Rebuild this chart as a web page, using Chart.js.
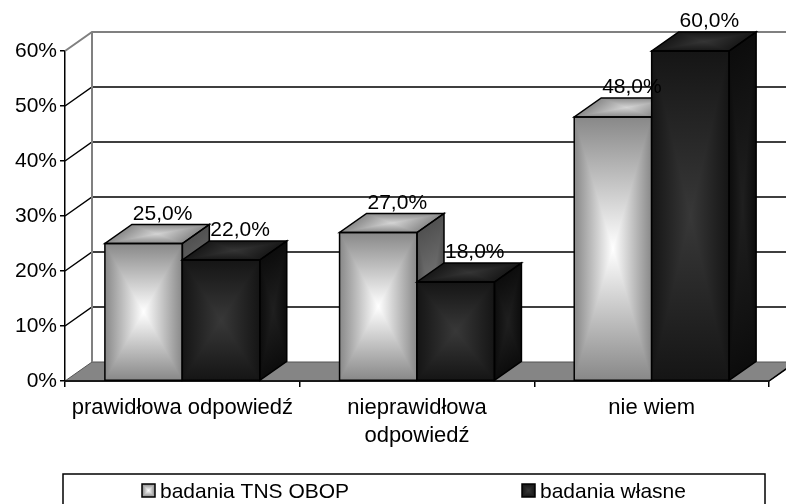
<!DOCTYPE html>
<html>
<head>
<meta charset="utf-8">
<script src="https://cdn.jsdelivr.net/npm/chart.js@4.4.1/dist/chart.umd.min.js"></script>
<style>
body { margin: 0; background: #fff; }
#wrap { width: 786px; height: 504px; }
</style>
</head>
<body>
<div id="wrap"><canvas id="chart" width="786" height="504"></canvas></div>
<script>
const categories = ['prawidłowa odpowiedź', ['nieprawidłowa', 'odpowiedź'], 'nie wiem'];
const seriesNames = ['badania TNS OBOP', 'badania własne'];
const tnsObop = [25, 27, 48];
const wlasne = [22, 18, 60];
const yMax = 60;
const yStep = 10;

// depth of the fake 3d box
const DX = 27, DY = -19;
const FONT = '"Liberation Sans", Arial, sans-serif';

const palette = [
    { front: ['#888888', '#ffffff'], top: ['#8a8a8a', '#d4d4d4'], side: ['#505050', '#7a7a7a'] },
    { front: ['#151515', '#383838'], top: ['#181818', '#353535'], side: ['#0c0c0c', '#1f1f1f'] }
];

// gradient across a parallelogram between edge (a,b) and its opposite edge
function acrossGrad(ctx, a, b, c, edgeCol, midCol) {
    const ex = b[0] - a[0], ey = b[1] - a[1];
    const t = ((c[0] - a[0]) * ex + (c[1] - a[1]) * ey) / (ex * ex + ey * ey);
    const fx = a[0] + ex * t, fy = a[1] + ey * t;
    const g = ctx.createLinearGradient(fx, fy, 2 * c[0] - fx, 2 * c[1] - fy);
    g.addColorStop(0, edgeCol);
    g.addColorStop(0.5, midCol);
    g.addColorStop(1, edgeCol);
    return g;
}

// "from centre" fill: min of two cross gradients (edges darker than centre)
function centreFill(ctx, pts, edgeCol, midCol) {
    const c = [(pts[0][0] + pts[2][0]) / 2, (pts[0][1] + pts[2][1]) / 2];
    const path = () => {
        ctx.beginPath();
        pts.forEach((p, i) => i ? ctx.lineTo(p[0], p[1]) : ctx.moveTo(p[0], p[1]));
        ctx.closePath();
    };
    ctx.save();
    path();
    ctx.fillStyle = acrossGrad(ctx, pts[0], pts[1], c, edgeCol, midCol);
    ctx.fill();
    ctx.globalCompositeOperation = 'darken';
    path();
    ctx.fillStyle = acrossGrad(ctx, pts[1], pts[2], c, edgeCol, midCol);
    ctx.fill();
    ctx.restore();
}

function outline(ctx, pts) {
    ctx.beginPath();
    pts.forEach((p, i) => i ? ctx.lineTo(p[0], p[1]) : ctx.moveTo(p[0], p[1]));
    ctx.closePath();
    ctx.strokeStyle = '#000';
    ctx.lineWidth = 1.5;
    ctx.stroke();
}

const wallsPlugin = {
    id: 'walls',
    beforeDatasetsDraw(chart) {
        const ctx = chart.ctx;
        const a = chart.chartArea;
        const y = chart.scales.y;
        ctx.save();

        // floor
        ctx.beginPath();
        ctx.moveTo(a.left, a.bottom);
        ctx.lineTo(a.right, a.bottom);
        ctx.lineTo(a.right + DX, a.bottom + DY);
        ctx.lineTo(a.left + DX, a.bottom + DY);
        ctx.closePath();
        ctx.fillStyle = '#858585';
        ctx.fill();
        ctx.strokeStyle = '#555';
        ctx.lineWidth = 1;
        ctx.stroke();

        // grid lines on side and back wall
        ctx.strokeStyle = '#000';
        ctx.lineWidth = 1.5;
        for (let v = yStep; v < yMax; v += yStep) {
            const yy = y.getPixelForValue(v);
            ctx.beginPath();
            ctx.moveTo(a.left, yy);
            ctx.lineTo(a.left + DX, yy + DY);
            ctx.lineTo(a.right + DX, yy + DY);
            ctx.stroke();
        }

        // wall borders
        ctx.strokeStyle = '#808080';
        ctx.lineWidth = 2;
        ctx.beginPath();
        ctx.moveTo(a.left, a.top);
        ctx.lineTo(a.left + DX, a.top + DY);
        ctx.lineTo(a.right + DX, a.top + DY);
        ctx.moveTo(a.left + DX, a.top + DY);
        ctx.lineTo(a.left + DX, a.bottom + DY);
        ctx.stroke();

        // front edge of floor
        ctx.strokeStyle = '#000';
        ctx.lineWidth = 1.5;
        ctx.beginPath();
        ctx.moveTo(a.left, a.bottom);
        ctx.lineTo(a.right, a.bottom);
        ctx.lineTo(a.right + DX, a.bottom + DY);
        ctx.stroke();
        ctx.restore();
    },
    afterDatasetsDraw(chart) {
        const ctx = chart.ctx;
        ctx.save();
        const n = chart.data.labels.length;
        for (let i = 0; i < n; i++) {
            chart.data.datasets.forEach((ds, d) => {
                const el = chart.getDatasetMeta(d).data[i];
                const x0 = el.x - el.width / 2, x1 = el.x + el.width / 2;
                const yt = el.y, yb = el.base;
                const col = palette[d];
                const front = [[x0, yt], [x1, yt], [x1, yb], [x0, yb]];
                const top = [[x0, yt], [x1, yt], [x1 + DX, yt + DY], [x0 + DX, yt + DY]];
                const side = [[x1, yt], [x1 + DX, yt + DY], [x1 + DX, yb + DY], [x1, yb]];
                centreFill(ctx, side, col.side[0], col.side[1]);
                centreFill(ctx, top, col.top[0], col.top[1]);
                centreFill(ctx, front, col.front[0], col.front[1]);
                outline(ctx, side);
                outline(ctx, top);
                outline(ctx, front);
            });
        }
        // value labels
        ctx.fillStyle = '#000';
        ctx.font = '21px ' + FONT;
        ctx.textAlign = 'center';
        ctx.textBaseline = 'alphabetic';
        chart.data.datasets.forEach((ds, d) => {
            chart.getDatasetMeta(d).data.forEach((el, i) => {
                const txt = ds.data[i].toFixed(1).replace('.', ',') + '%';
                ctx.fillText(txt, el.x + 19, el.y + DY - 5);
            });
        });
        ctx.restore();
    },
    afterDraw(chart) {
        const ctx = chart.ctx;
        ctx.save();
        // legend box
        ctx.strokeStyle = '#000';
        ctx.lineWidth = 1.5;
        ctx.strokeRect(63, 474, 702, 40);
        const items = [{ x: 142 }, { x: 522 }];
        ctx.font = '21px ' + FONT;
        ctx.textAlign = 'left';
        ctx.textBaseline = 'alphabetic';
        items.forEach((it, d) => {
            const sq = [[it.x, 484], [it.x + 13, 484], [it.x + 13, 497], [it.x, 497]];
            centreFill(ctx, sq, palette[d].front[0], palette[d].front[1]);
            outline(ctx, sq);
            ctx.fillStyle = '#000';
            ctx.fillText(chart.data.datasets[d].label, it.x + 18, 498);
        });
        ctx.restore();
    }
};

new Chart(document.getElementById('chart'), {
    type: 'bar',
    data: {
        labels: categories,
        datasets: [
            { label: seriesNames[0], data: tnsObop, backgroundColor: 'rgba(0,0,0,0)', borderWidth: 0 },
            { label: seriesNames[1], data: wlasne, backgroundColor: 'rgba(0,0,0,0)', borderWidth: 0 }
        ]
    },
    options: {
        responsive: false,
        animation: false,
        categoryPercentage: 0.66,
        barPercentage: 1,
        layout: { padding: { left: 0, right: 17, top: 51, bottom: 0 } },
        plugins: {
            legend: { display: false },
            tooltip: { enabled: false }
        },
        scales: {
            x: {
                grid: { drawOnChartArea: false, drawTicks: true, tickLength: 6, color: '#000', lineWidth: 1.5 },
                border: { color: '#000', width: 1.5 },
                ticks: { color: '#000', font: { family: FONT, size: 22, lineHeight: 1.28 }, padding: 7, maxRotation: 0, autoSkip: false },
                afterFit(scale) { scale.height = 123; }
            },
            y: {
                min: 0,
                max: yMax,
                grid: { drawOnChartArea: false, drawTicks: true, tickLength: 5, color: '#000', lineWidth: 1.5 },
                border: { color: '#000', width: 1.5 },
                ticks: {
                    stepSize: yStep,
                    color: '#000',
                    padding: 3,
                    font: { family: FONT, size: 21 },
                    callback: v => v + '%'
                },
                afterFit(scale) { scale.width = 65; }
            }
        }
    },
    plugins: [wallsPlugin]
});
</script>
</body>
</html>
